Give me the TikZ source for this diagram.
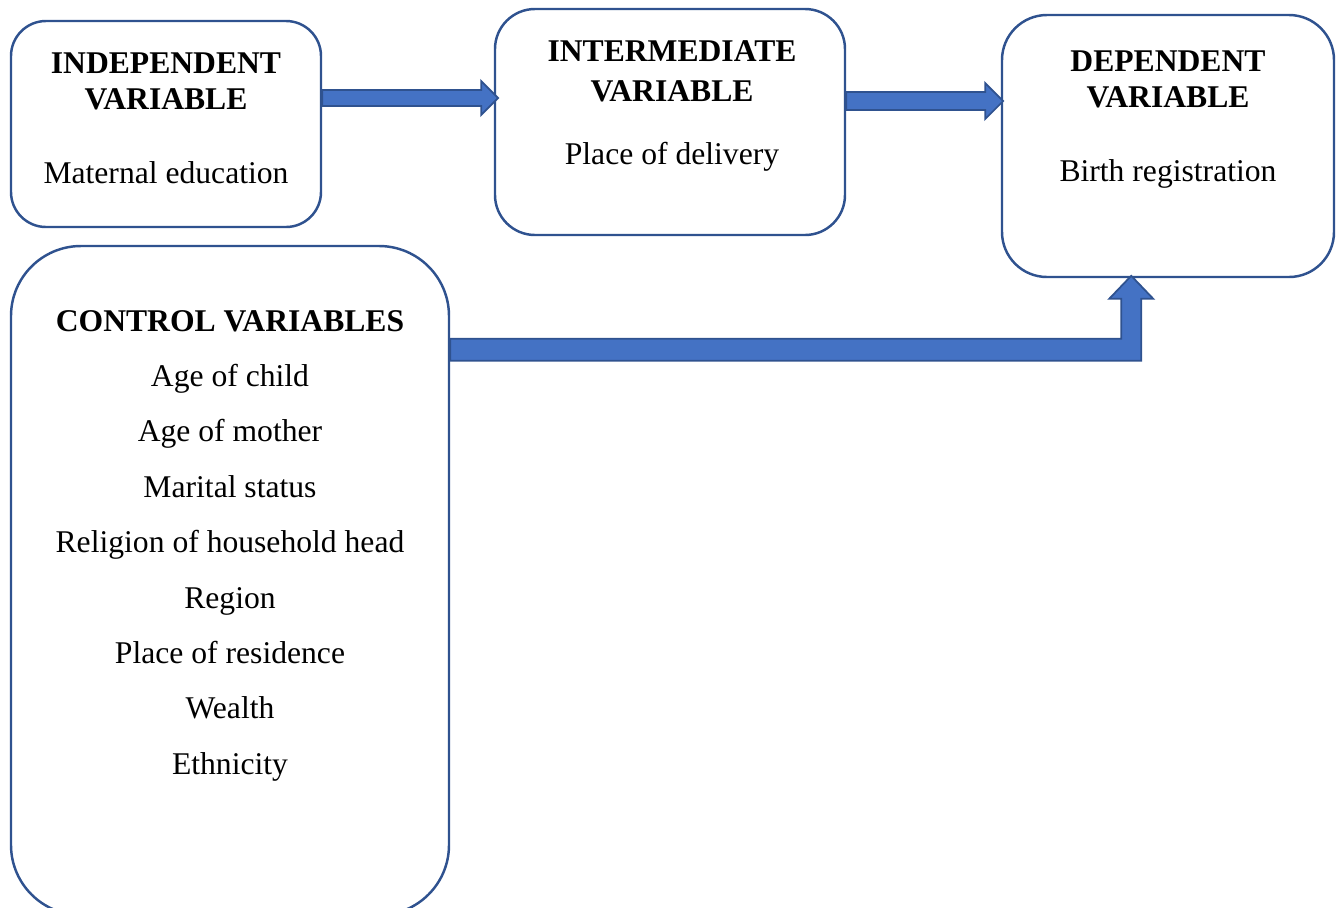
\documentclass[tikz,border=0pt]{standalone}
\usepackage{fontspec}
\setmainfont{Liberation Serif}
\usetikzlibrary{shapes,arrows,positioning,calc}
\definecolor{boxblue}{HTML}{2F528F}
\definecolor{fillblue}{HTML}{4472C4}

\begin{document}
\begin{tikzpicture}[x=0.02cm, y=-0.02cm]
        \tikzstyle{varbox}=[draw=boxblue, line width=1.4pt, fill=white, rectangle]
        \tikzstyle{vartext}=[align=center, inner sep=0pt, anchor=north, font=\fontsize{18}{20.5}\selectfont]
        \tikzstyle{blockarrow}=[draw=boxblue, fill=fillblue, line width=1pt, line join=miter]
        \useasboundingbox (0,0) rectangle (1340,907);
        % boxes
        \node[varbox, minimum width=310*0.02cm, minimum height=206*0.02cm, rounded corners=35*0.02cm] (indep) at (166,124) {};
        \node[varbox, minimum width=350*0.02cm, minimum height=226*0.02cm, rounded corners=40*0.02cm] (inter) at (670,122) {};
        \node[varbox, minimum width=332*0.02cm, minimum height=262*0.02cm, rounded corners=45*0.02cm] (dep)   at (1168,146) {};
        \node[varbox, minimum width=438*0.02cm, minimum height=669*0.02cm, rounded corners=70*0.02cm] (ctrl)  at (230,580.5) {};
        % texts
        \node[vartext] (indepText) at (166,52) {\textbf{INDEPENDENT}\\\textbf{VARIABLE}\\[0.76cm] Maternal education};
        \node[vartext] (interText) at (672,40) {\textbf{INTERMEDIATE}\\[0.08cm]\textbf{VARIABLE}\\[0.54cm] Place of delivery};
        \node[vartext] (depText)   at (1168,50) {\textbf{DEPENDENT}\\\textbf{VARIABLE}\\[0.76cm] Birth registration};
        \node[vartext, font=\fontsize{18}{31.5}\selectfont] (ctrlText) at (230,310)
            {\textbf{CONTROL VARIABLES}\\Age of child\\Age of mother\\Marital status\\Religion of household head\\Region\\Place of residence\\Wealth\\Ethnicity};
        % arrows
        \filldraw[blockarrow] (indep.east) ++(0,-34) -- ++(159,0) -- ++(0,-9) -- ++(17,17) -- ++(-17,17) -- ++(0,-9) -- ++(-159,0) -- cycle;
        \filldraw[blockarrow] (inter.east) ++(0,-30) -- ++(139,0) -- ++(0,-9) -- ++(18,18) -- ++(-18,18) -- ++(0,-9) -- ++(-139,0) -- cycle;
        \filldraw[blockarrow] (ctrl.north east) ++(0,94) -- ++(671,0) -- ++(0,-40) -- ++(-12,0) -- ++(22,-23)
            -- ++(22,23) -- ++(-12,0) -- ++(0,62) -- ++(-691,0) -- cycle;
\end{tikzpicture}
\end{document}
